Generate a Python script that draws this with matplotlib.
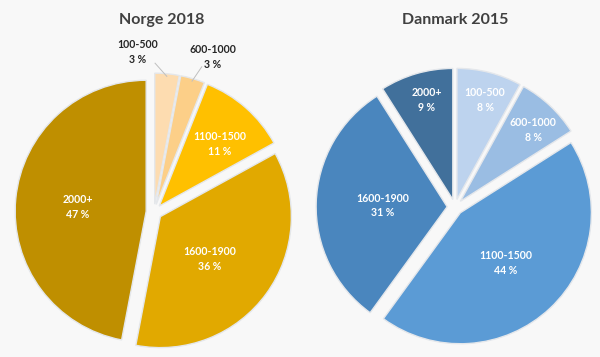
import matplotlib
matplotlib.use("Agg")
import matplotlib.pyplot as plt
import numpy as np

plt.rcParams['font.family'] = ['Lato', 'DejaVu Sans']

categories = ['100-500', '600-1000', '1100-1500', '1600-1900', '2000+']

norge_title = 'Norge 2018'
norge_values = [3, 3, 11, 36, 47]
danmark_title = 'Danmark 2015'
danmark_values = [8, 8, 44, 31, 9]

norge_colors = ['#FDDCB0', '#FCCF88', '#FFC000', '#E1A900', '#BF8F00']
danmark_colors = ['#BDD3EE', '#9ABDE3', '#5B9BD5', '#4A86BE', '#41709B']

# label placement per slice: (radius, angle offset from wedge middle)
norge_lbl = [(1.227, 11.1), (1.266, -4.6), (0.723, -2.8), (0.558, -4), (0.581, 1.6)]
danmark_lbl = [(0.848, -1.3), (0.837, -2.2), (0.578, -0.9), (0.55, 0.6), (0.844, -1.5)]
# leader line start offsets from outside labels
norge_leader = {0: (0.13, -0.085), 1: (-0.085, -0.075)}

BG = '#F8F8F8'
PX = 131  # pie radius in pixels
LIM = 1.45
W, H = 600, 357

fig = plt.figure(figsize=(6, 3.57), dpi=100, facecolor=BG)


def draw_pie(cx, cy, values, colors, lbl, leader, title, tx):
    size = 2 * LIM * PX
    ax = fig.add_axes([(cx - size / 2) / W, (H - cy - size / 2) / H, size / W, size / H])
    wedges, _ = ax.pie(values, colors=colors, startangle=90, counterclock=False,
                       explode=[0.06] * len(values),
                       wedgeprops=dict(edgecolor='#E4E7EB', linewidth=1.0))
    ax.set_xlim(-LIM, LIM)
    ax.set_ylim(-LIM, LIM)
    ax.set_aspect('equal')
    ax.axis('off')
    for i, (w, cat, v, (r, dth)) in enumerate(zip(wedges, categories, values, lbl)):
        mid = (w.theta1 + w.theta2) / 2
        a = np.deg2rad(mid + dth)
        x, y = r * np.cos(a), r * np.sin(a)
        outside = i in leader
        col = '#262626' if outside else 'white'
        ax.text(x, y, f'{cat}\n{v} %', ha='center', va='center', fontsize=7.6,
                fontweight='bold', color=col, linespacing=1.4)
        if outside:
            am = np.deg2rad(mid)
            ex = w.center[0] + 0.98 * np.cos(am)
            ey = w.center[1] + 0.98 * np.sin(am)
            sx, sy = leader[i]
            ax.plot([x + sx, ex], [y + sy, ey], color='#BFBFBF', lw=0.7)
    fig.text(tx / W, 1 - 20 / H, title, ha='center', va='center', fontsize=11.5,
             fontweight='bold', color='#404040')


draw_pie(154, 212, norge_values, norge_colors, norge_lbl, norge_leader, norge_title, 162)
draw_pie(455, 207, danmark_values, danmark_colors, danmark_lbl, {}, danmark_title, 455)

fig.savefig('out.png', dpi=100, facecolor=BG)
